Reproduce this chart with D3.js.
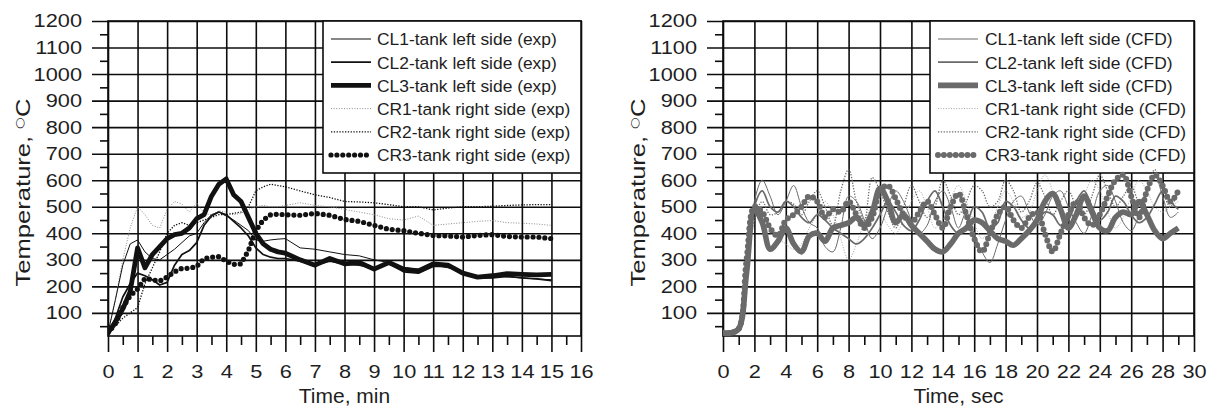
<!DOCTYPE html>
<html>
<head>
<meta charset="utf-8">
<script src="https://cdn.jsdelivr.net/npm/d3@7"></script>
<style>
body { margin: 0; background: #fff; }
svg { display: block; }
text { font-family: "Liberation Sans", Arial, sans-serif; fill: #1e1e1e; }
</style>
</head>
<body>
<svg id="chart" width="1213" height="407"></svg>
<script>

// Experiment, time in minutes
var expTime = [0, 0.25, 0.5, 0.75, 1, 1.25, 1.5, 1.75, 2, 2.25, 2.5, 2.75, 3, 3.25, 3.5, 3.75, 4, 4.25, 4.5, 4.75, 5, 5.25, 5.5, 5.75,
    6, 6.5, 7, 7.5, 8, 8.5, 9, 9.5, 10, 10.5, 11, 11.5, 12, 12.5, 13, 13.5, 14, 14.5, 15];
var expCL1 = [25, 150, 280, 360, 375, 330, 305, 300, 320, 340, 365, 390, 400, 440, 470, 480, 465, 450, 430, 410, 375, 370, 375, 378,
    380, 345, 340, 330, 320, 315, 300, 290, 270, 265, 280, 270, 255, 240, 238, 236, 232, 228, 225];
var expCL2 = [25, 80, 160, 210, 250, 240, 225, 205, 215, 280, 320, 335, 365, 430, 465, 480, 470, 445, 420, 390, 345, 320, 310, 305,
    305, 295, 280, 295, 285, 280, 270, 285, 255, 250, 275, 275, 250, 232, 232, 238, 232, 228, 222];
var expCL3 = [25, 65, 115, 180, 345, 270, 320, 350, 380, 395, 400, 420, 455, 470, 540, 585, 605, 545, 520, 460, 400, 360, 340, 330,
    325, 300, 280, 305, 285, 290, 265, 290, 265, 258, 285, 280, 250, 235, 240, 248, 245, 243, 245];
var expCR1 = [25, 150, 300, 420, 500, 470, 430, 420, 490, 520, 510, 480, 515, 475, 470, 485, 480, 470, 475, 490, 500, 505, 500, 500,
    505, 515, 505, 500, 490, 480, 470, 455, 450, 465, 430, 435, 440, 445, 448, 440, 438, 435, 430];
var expCR2 = [25, 50, 80, 100, 120, 210, 270, 330, 400, 430, 440, 430, 440, 450, 460, 470, 470, 475, 480, 500, 560, 575, 585, 580,
    575, 560, 545, 535, 520, 518, 515, 508, 500, 500, 488, 495, 500, 500, 502, 505, 507, 508, 508];
var expCR3 = [25, 60, 120, 165, 190, 230, 225, 220, 235, 255, 268, 268, 275, 305, 310, 312, 295, 283, 285, 335, 410, 450, 470, 472,
    470, 468, 475, 468, 452, 445, 430, 415, 410, 400, 392, 390, 386, 392, 395, 388, 386, 386, 380];

// CFD, time in seconds
var cfdTime = [0, 0.5, 1, 1.5, 2, 2.5, 3, 3.5, 4, 4.5, 5, 5.5, 6, 6.5, 7, 7.5, 8, 8.5, 9, 9.5, 10, 10.5, 11, 11.5, 12, 12.5, 13, 13.5, 14, 14.5,
    15, 15.5, 16, 16.5, 17, 17.5, 18, 18.5, 19, 19.5, 20, 20.5, 21, 21.5, 22, 22.5, 23, 23.5, 24, 24.5, 25, 25.5, 26, 26.5, 27, 27.5, 28, 28.5, 29];
var cfdCL1 = [25, 25, 40, 280, 520, 600, 540, 470, 520, 580, 500, 440, 420, 350, 330, 420, 540, 520, 450, 380, 420, 500, 560, 520, 450, 400, 430, 520, 560, 500,
    420, 480, 400, 330, 290, 360, 450, 520, 540, 480, 430, 470, 540, 560, 500, 440, 400, 470, 560, 580, 520, 440, 410, 470, 560, 620, 540, 460, 480];
var cfdCL2 = [25, 25, 35, 250, 500, 560, 500, 480, 520, 500, 460, 440, 470, 450, 420, 400, 380, 360, 380, 420, 470, 520, 480, 430, 410, 450, 520, 560, 500, 430,
    400, 430, 500, 480, 420, 440, 520, 500, 450, 420, 440, 480, 470, 430, 450, 520, 560, 500, 450, 480, 540, 520, 470, 440, 460, 510, 560, 520, 490];
var cfdCL3 = [25, 25, 40, 250, 490, 440, 340, 370, 420, 360, 330, 390, 400, 370, 420, 430, 440, 460, 430, 480, 570, 520, 440, 470, 430, 400, 370, 340, 330, 360,
    400, 420, 450, 440, 410, 380, 370, 355, 380, 410, 450, 520, 550, 490, 420, 470, 540, 480, 420, 410, 460, 480, 470, 520, 470, 410, 380, 400, 420];
var cfdCR1 = [25, 25, 40, 260, 480, 440, 400, 380, 360, 340, 360, 420, 470, 520, 470, 380, 300, 360, 440, 500, 480, 430, 400, 450, 520, 560, 500, 420, 450, 530,
    580, 520, 440, 380, 420, 500, 560, 520, 460, 480, 560, 620, 560, 480, 420, 460, 540, 600, 560, 480, 420, 460, 540, 600, 560, 500, 480, 500, 520];
var cfdCR2 = [25, 25, 40, 220, 450, 520, 470, 480, 520, 510, 470, 520, 560, 500, 430, 560, 640, 520, 450, 610, 560, 480, 420, 500, 580, 520, 460, 500, 600, 540,
    470, 520, 580, 560, 500, 520, 600, 560, 480, 520, 590, 540, 470, 520, 560, 500, 470, 540, 620, 560, 500, 540, 580, 520, 560, 640, 560, 500, 560];
var cfdCR3 = [25, 25, 40, 300, 500, 480, 420, 390, 450, 470, 500, 540, 520, 460, 490, 480, 520, 470, 420, 460, 560, 580, 530, 470, 440, 480, 520, 470, 420, 500,
    550, 470, 380, 330, 400, 470, 500, 450, 420, 460, 480, 400, 330, 400, 470, 520, 460, 430, 470, 540, 600, 620, 540, 460, 560, 620, 580, 520, 560];

var expNames = ["CL1-tank left side (exp)", "CL2-tank left side (exp)", "CL3-tank left side (exp)",
    "CR1-tank right side (exp)", "CR2-tank right side (exp)", "CR3-tank right side (exp)"];
var cfdNames = ["CL1-tank left side (CFD)", "CL2-tank left side (CFD)", "CL3-tank left side (CFD)",
    "CR1-tank right side (CFD)", "CR2-tank right side (CFD)", "CR3-tank right side (CFD)"];

var yMajor = [100, 200, 300, 400, 500, 600, 700, 800, 900, 1000, 1100, 1200];
var yMinor = [50, 150, 250, 350, 450, 550, 650, 750, 850, 950, 1050, 1150];
var expTicks = [0, 1, 2, 3, 4, 5, 6, 7, 8, 9, 10, 11, 12, 13, 14, 15, 16];
var expMinor = [0.5, 1.5, 2.5, 3.5, 4.5, 5.5, 6.5, 7.5, 8.5, 9.5, 10.5, 11.5, 12.5, 13.5, 14.5, 15.5];
var cfdTicks = [0, 2, 4, 6, 8, 10, 12, 14, 16, 18, 20, 22, 24, 26, 28, 30];
var cfdMinor = [1, 3, 5, 7, 9, 11, 13, 15, 17, 19, 21, 23, 25, 27, 29];

// line looks, same order as the names
function styles(dark, light, thick)
{
    return [
        { color: dark, width: 1, dash: null },
        { color: dark, width: 1.7, dash: null },
        { color: dark, width: thick, dash: null },
        { color: light, width: 1, dash: "1,1.6" },
        { color: dark, width: 1.3, dash: "1.3,1.5" },
        { color: dark, width: thick + 0.4, dash: "0,5.9" }
    ];
}

var plotTop = 21, plotBottom = 336;
var gridColor = "#0d0d0d", gridWidth = 1.6;
var svg = d3.select("#chart");

function stretchText(sel, k)
{
    sel.each(function ()
    {
        var w = this.getComputedTextLength();
        d3.select(this).attr("textLength", w * k).attr("lengthAdjust", "spacingAndGlyphs");
    });
}

function drawPanel(p)
{
    var x = d3.scaleLinear().domain([0, p.xMax]).range([p.left, p.right]);
    var y = d3.scaleLinear().domain([13, 1200]).range([plotBottom, plotTop]);
    var w = p.right - p.left;
    var g = svg.append("g");

    // y axis: major ticks run across as grid lines
    var yAx = g.append("g").attr("transform", "translate(" + p.left + ",0)")
        .call(d3.axisLeft(y).tickValues(yMajor).tickFormat(d3.format("d")).tickSize(16).tickPadding(10));
    yAx.selectAll(".tick line").attr("x1", w);
    g.append("g").attr("transform", "translate(" + p.left + ",0)")
        .call(d3.axisLeft(y).tickValues(yMinor).tickSize(8).tickFormat(""));

    // x axis
    var xAx = g.append("g").attr("transform", "translate(0," + plotBottom + ")")
        .call(d3.axisBottom(x).tickValues(p.ticks).tickSize(16).tickPadding(12.5));
    xAx.selectAll(".tick line").attr("y1", plotTop - plotBottom);
    g.append("g").attr("transform", "translate(0," + plotBottom + ")")
        .call(d3.axisBottom(x).tickValues(p.minor).tickSize(9).tickFormat(""));

    g.selectAll(".domain").remove();
    g.selectAll(".tick line").attr("stroke", gridColor).attr("stroke-width", gridWidth);
    g.selectAll(".tick text").style("font-size", "18.6px").attr("fill", "#1e1e1e")
        .style("font-family", "'Liberation Sans', Arial, sans-serif");
    stretchText(g.selectAll(".tick text"), 1.17);

    g.append("rect")
        .attr("x", p.left).attr("y", plotTop).attr("width", w).attr("height", plotBottom - plotTop)
        .attr("fill", "none").attr("stroke", gridColor).attr("stroke-width", gridWidth);

    // axis titles
    g.append("text")
        .attr("x", (p.left + p.right) / 2).attr("y", 403)
        .attr("text-anchor", "middle").style("font-size", "21px")
        .text(p.xTitle);

    var yt = g.append("text")
        .attr("transform", "translate(" + p.yTitleX + ",192.5) rotate(-90)")
        .attr("text-anchor", "middle").style("font-size", "21px")
        .attr("textLength", 188).attr("lengthAdjust", "spacingAndGlyphs");
    yt.append("tspan").text("Temperature, ");
    yt.append("tspan").attr("dy", -7).style("font-size", "11px")
        .style("font-family", "'DejaVu Sans', sans-serif").text("\u25CB");
    yt.append("tspan").attr("dy", 7).text("C");

    // legend box
    var lx = p.right - p.legendW;
    g.append("rect")
        .attr("x", lx).attr("y", plotTop).attr("width", p.legendW).attr("height", 152)
        .attr("fill", "#fff").attr("stroke", gridColor).attr("stroke-width", gridWidth);

    var st = p.styles;
    for (var i = 0; i < p.names.length; i++)
    {
        var ry = 39 + i * 23.2;
        g.append("line")
            .attr("x1", lx + 8).attr("x2", lx + 48).attr("y1", ry).attr("y2", ry)
            .attr("stroke", st[i].color).attr("stroke-width", st[i].width)
            .attr("stroke-dasharray", st[i].dash).attr("stroke-linecap", i == 5 ? "round" : "butt");
        g.append("text")
            .attr("x", lx + p.textOff).attr("y", ry + 6.4)
            .style("font-size", "17.4px")
            .text(p.names[i]);
    }

    // series
    var clipId = "clip" + p.left;
    svg.append("clipPath").attr("id", clipId).append("rect")
        .attr("x", p.left).attr("y", plotTop - 10).attr("width", w).attr("height", plotBottom - plotTop + 10);

    var line = d3.line().curve(p.curve)
        .x(function (d) { return x(d[0]); })
        .y(function (d) { return y(d[1]); });

    var order = [3, 4, 0, 1, 5, 2];
    order.forEach(function (k)
    {
        var pts = p.time.map(function (t, j) { return [t, p.series[k][j]]; });
        g.append("path")
            .attr("clip-path", "url(#" + clipId + ")")
            .attr("d", line(pts))
            .attr("fill", "none")
            .attr("stroke", st[k].color)
            .attr("stroke-width", st[k].width)
            .attr("stroke-dasharray", st[k].dash)
            .attr("stroke-linecap", k == 5 ? "round" : "butt")
            .attr("stroke-linejoin", "round");
    });
}

drawPanel({
    left: 108, right: 581, xMax: 16,
    ticks: expTicks, minor: expMinor,
    xTitle: "Time, min", yTitleX: 30,
    legendW: 258, textOff: 54,
    names: expNames,
    time: expTime,
    series: [expCL1, expCL2, expCL3, expCR1, expCR2, expCR3],
    styles: styles("#111", "#8c8c8c", 4.8),
    curve: d3.curveLinear
});

drawPanel({
    left: 723, right: 1194, xMax: 30,
    ticks: cfdTicks, minor: cfdMinor,
    xTitle: "Time, sec", yTitleX: 645,
    legendW: 264, textOff: 55,
    names: cfdNames,
    time: cfdTime,
    series: [cfdCL1, cfdCL2, cfdCL3, cfdCR1, cfdCR2, cfdCR3],
    styles: styles("#6a6a6a", "#a5a5a5", 5.6),
    curve: d3.curveCatmullRom
});

</script>
</body>
</html>
